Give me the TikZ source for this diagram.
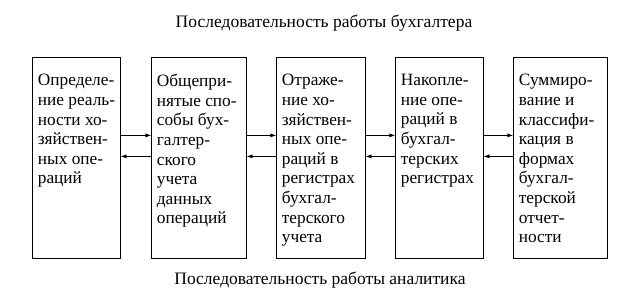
\documentclass[tikz,border=0pt]{standalone}
\usepackage{fontspec}
\setmainfont{Liberation Serif}
\usetikzlibrary{
    arrows.meta,
    positioning
}

\newcommand{\stagetext}[2]{\parbox[c][201pt][t]{#1pt}{\vspace{17pt}\hspace*{5.5pt}\parbox[t]{\dimexpr#1pt-4pt\relax}{\raggedright #2}}}

\begin{document}
\begin{tikzpicture}[
    x=1pt, y=1pt,
    font=\fontsize{17.3}{19.6}\selectfont,
    stage/.style={
        rectangle,
        draw=black,
        thick,
        anchor=north west,
        inner sep=0pt,
        fill=white
    },
    arrow/.style={
        -{Latex[length=2mm,width=1.4mm]},
        thin,
        draw=black
    },
    caption/.style={
        font=\fontsize{17.5}{19}\selectfont,
        align=center
    }
]
\useasboundingbox (0,0) rectangle (621,-304);

% =========================================================
% Captions
% =========================================================
\node[caption] (top) at (324,-23.5) {Последовательность работы бухгалтера};
\node[caption] (bottom) at (320,-280) {Последовательность работы аналитика};

% =========================================================
% Stages
% =========================================================
\node[stage] (check) at (32,-57) {\stagetext{88}{Определе-\\ние реаль-\\ности хо-\\зяйствен-\\ных опе-\\раций}};

\node[stage] (methods) at (151,-57) {\stagetext{95}{Общепри-\\нятые спо-\\собы бух-\\галтер-\\ского\\учета\\данных\\операций}};

\node[stage] (record) at (276,-57) {\stagetext{89}{Отраже-\\ние хо-\\зяйствен-\\ных опе-\\раций в\\регистрах\\бухгал-\\терского\\учета}};

\node[stage] (accum) at (395,-57) {\stagetext{88}{Накопле-\\ние опе-\\раций в\\бухгал-\\терских\\регистрах}};

\node[stage] (summary) at (513,-57) {\stagetext{94}{Суммиро-\\вание и\\классифи-\\кация в\\формах\\бухгал-\\терской\\отчет-\\ности}};

% =========================================================
% Forward (accountant) and backward (analyst) arrows
% =========================================================
\foreach \a/\b in {check/methods, methods/record, record/accum, accum/summary}{
    \draw[arrow] ([yshift=22.5pt]\a.east) -- ([yshift=22.5pt]\b.west);
    \draw[arrow] ([yshift=1.5pt]\b.west) -- ([yshift=1.5pt]\a.east);
}

\end{tikzpicture}
\end{document}
